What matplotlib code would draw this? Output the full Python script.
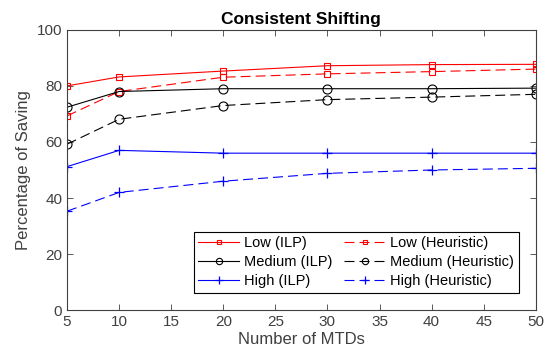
import matplotlib
matplotlib.use("Agg")
import matplotlib.pyplot as plt

plt.rcParams['font.family'] = ['Liberation Sans', 'DejaVu Sans']

mtds = [5, 10, 20, 30, 40, 50]

low_ilp = [80, 83.2, 85.3, 87.2, 87.6, 87.7]
low_heur = [69.3, 78, 83.1, 84.3, 85.1, 86]
med_ilp = [72.4, 78, 79, 79, 79, 79.2]
med_heur = [59.2, 68.1, 73, 75.1, 76, 77]
high_ilp = [51.2, 57, 56, 56, 56, 56]
high_heur = [35.3, 42, 46, 48.8, 50, 50.6]

gray = '#404040'

fig = plt.figure(figsize=(5.45, 3.64), dpi=100)
ax = fig.add_axes([0.123, 0.148, 0.860, 0.770])

dash = (0, (9, 4.5))
ax.plot(mtds, low_ilp, '-', color='red', lw=0.8, marker='s', ms=5, mfc='none', mew=0.8, label='Low (ILP)')
ax.plot(mtds, low_heur, color='red', ls=dash, lw=0.8, marker='s', ms=5, mfc='none', mew=0.8, label='Low (Heuristic)')
ax.plot(mtds, med_ilp, '-', color='black', lw=0.8, marker='o', ms=6.5, mfc='none', mew=0.8, label='Medium (ILP)')
ax.plot(mtds, med_heur, color='black', ls=dash, lw=0.8, marker='o', ms=6.5, mfc='none', mew=0.8, label='Medium (Heuristic)')
ax.plot(mtds, high_ilp, '-', color='blue', lw=0.8, marker='+', ms=7.5, mew=0.9, label='High (ILP)')
ax.plot(mtds, high_heur, color='blue', ls=dash, lw=0.8, marker='+', ms=7.5, mew=0.9, label='High (Heuristic)')

ax.set_xlim(5, 50)
ax.set_ylim(0, 100)
ax.set_xticks(range(5, 51, 5))
ax.set_yticks(range(0, 101, 20))
ax.tick_params(direction='in', top=True, right=True, colors=gray, labelsize=11, length=4, width=0.6)
for s in ax.spines.values():
    s.set_color(gray)
    s.set_linewidth(0.8)

ax.set_xlabel('Number of MTDs', fontsize=12, color=gray, labelpad=2)
ax.set_ylabel('Percentage of Saving', fontsize=12, color=gray, labelpad=4)
ax.set_title('Consistent Shifting', fontsize=12.5, fontweight='bold', pad=4)

handles, labels = ax.get_legend_handles_labels()
order = [0, 2, 4, 1, 3, 5]
leg = ax.legend([handles[i] for i in order], [labels[i] for i in order], ncol=2,
                loc='lower right', bbox_to_anchor=(0.979, 0.036), fontsize=10.5,
                frameon=True, fancybox=False, edgecolor='black', framealpha=1,
                handlelength=2.8, handletextpad=0.35, columnspacing=0.8,
                labelspacing=0.35, borderpad=0.3, markerscale=0.7)
leg.get_frame().set_linewidth(0.8)

fig.savefig('out.png', dpi=100)
